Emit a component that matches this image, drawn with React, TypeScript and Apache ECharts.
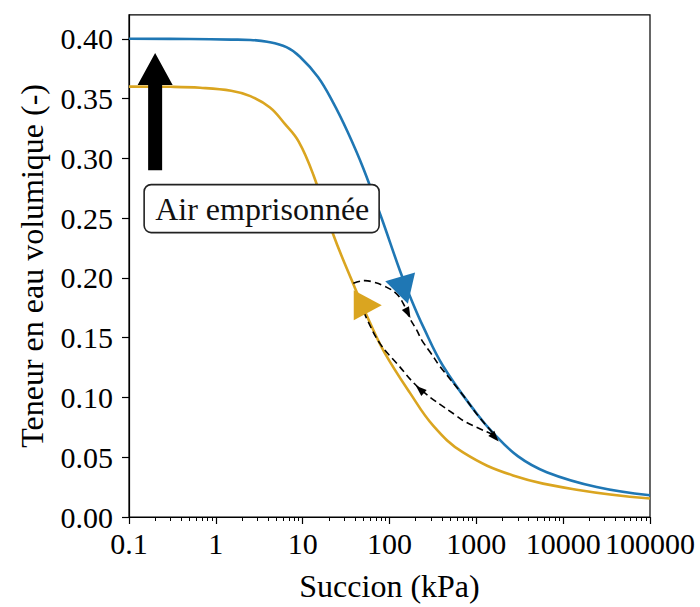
import { useEffect, useRef } from "react";
import * as echarts from "echarts";

const FONT = "Liberation Serif, Times New Roman, serif";

// Main drying curve (blue)
const suctionDrying = [0.1, 0.5, 1.5, 2.5, 3.9, 6.5, 9.3, 15, 22.3, 33, 50, 81, 132, 180, 245, 417, 1009, 1556, 3000, 6470, 24300, 100000];
const thetaDrying = [0.4, 0.3998, 0.3993, 0.399, 0.3975, 0.393, 0.385, 0.368, 0.347, 0.322, 0.2915, 0.2501, 0.206, 0.1811, 0.159, 0.1259, 0.0865, 0.0704, 0.0509, 0.0375, 0.0251, 0.0182];

// Main wetting curve (yellow)
const suctionWetting = [0.1, 0.3, 0.66, 1.5, 2.5, 4.2, 6.2, 9, 13.3, 22.5, 38.3, 60, 88.7, 172, 320, 703, 2645, 15630, 100000];
const thetaWetting = [0.36, 0.3598, 0.359, 0.3565, 0.352, 0.3425, 0.329, 0.314, 0.286, 0.2363, 0.1949, 0.162, 0.1369, 0.1038, 0.0762, 0.054, 0.0348, 0.0224, 0.0155];

// Scanning curve: from the wetting curve over to the drying curve, then down along it
const scanDrySuction = [38.3, 45.7, 52.2, 65, 84.9, 121, 151, 172, 206, 235, 300, 382, 700, 1009, 1556];
const scanDryTheta = [0.1955, 0.1972, 0.1977, 0.1965, 0.1935, 0.1866, 0.1756, 0.1659, 0.1563, 0.148, 0.137, 0.1259, 0.102, 0.0862, 0.0702];

// Scanning curve: back from the drying curve to the wetting curve
const scanWetSuction = [1556, 774, 594, 224, 121, 77.8, 54.6, 47];
const scanWetTheta = [0.069, 0.079, 0.0845, 0.1072, 0.1286, 0.145, 0.166, 0.178];

const xTickValues = [0.1, 1, 10, 100, 1000, 10000, 100000];
const yTickValues = [0, 0.05, 0.1, 0.15, 0.2, 0.25, 0.3, 0.35, 0.4];
const decades = [0.1, 1, 10, 100, 1000, 10000];
const minorMultipliers = [2, 3, 4, 5, 6, 7, 8, 9];

// Direction markers: [suction, theta, rotation]
const dryingMarker = [147, 0.1896, -164];
const wettingMarker = [56.2, 0.1772, -90];
const scanArrows = [
  [163, 0.1706, -153],
  [224, 0.1068, 48],
  [1640, 0.0665, -138],
];

// Trapped-air arrow: suction, from theta, to theta
const trappedAirArrow = [0.2, 0.29, 0.388];
const annotationPos = [0.2, 0.25];
const annotationText = "Air emprisonnée";

const zip = (xs: number[], ys: number[]) => xs.map((x, i) => [x, ys[i]]);

export default function App() {
  const ref = useRef<HTMLDivElement>(null);

  useEffect(() => {
    if (!ref.current) return;
    const chart = echarts.init(ref.current, undefined, { renderer: "svg" });

    const minorTicks = decades.flatMap((d) => minorMultipliers.map((m) => m * d));
    const axisLineStyle = { color: "#000", width: 1.2 };
    const curve = (name: string, data: number[][], color: string, width: number, dashed: boolean, z: number) => ({
      name,
      type: "line",
      data,
      showSymbol: false,
      smooth: 0.4,
      lineStyle: dashed ? { color, width, type: [7, 4] } : { color, width },
      itemStyle: { color },
      z,
    });

    const option: any = {
      animation: false,
      grid: {
        left: 129,
        right: 50,
        top: 14.85,
        bottom: 85,
        show: true,
        borderColor: "#000",
        borderWidth: 1.2,
        backgroundColor: "transparent",
      },
      xAxis: [
        {
          type: "log",
          logBase: 10,
          min: 0.1,
          max: 100000,
          name: "Succion (kPa)",
          nameLocation: "middle",
          nameGap: 53,
          nameTextStyle: { fontFamily: FONT, fontSize: 32, color: "#000" },
          axisLine: { show: true, onZero: false, lineStyle: axisLineStyle },
          axisTick: { show: true, length: 7, inside: false, customValues: xTickValues, lineStyle: axisLineStyle },
          axisLabel: {
            customValues: xTickValues,
            formatter: (v: number) => (v < 1 ? "0.1" : String(Math.round(v))),
            fontFamily: FONT,
            fontSize: 30,
            color: "#000",
            margin: 11,
            hideOverlap: false,
          },
          splitLine: { show: false },
        },
        {
          type: "log",
          logBase: 10,
          min: 0.1,
          max: 100000,
          position: "bottom",
          axisLine: { show: false },
          axisTick: { show: true, length: 4, inside: false, customValues: minorTicks, lineStyle: { color: "#000", width: 1 } },
          axisLabel: { show: false },
          splitLine: { show: false },
        },
      ],
      yAxis: {
        type: "value",
        min: 0,
        max: 0.42,
        name: "Teneur en eau volumique (-)",
        nameLocation: "middle",
        nameGap: 81,
        nameTextStyle: { fontFamily: FONT, fontSize: 32, color: "#000" },
        axisLine: { show: true, onZero: false, lineStyle: axisLineStyle },
        axisTick: { show: true, length: 7, inside: false, customValues: yTickValues, lineStyle: axisLineStyle },
        axisLabel: {
          customValues: yTickValues,
          formatter: (v: number) => v.toFixed(2),
          fontFamily: FONT,
          fontSize: 30,
          color: "#000",
          margin: 16,
        },
        splitLine: { show: false },
      },
      series: [
        curve("Séchage", zip(suctionDrying, thetaDrying), "#1f77b4", 2.6, false, 2),
        curve("Mouillage", zip(suctionWetting, thetaWetting), "#daa520", 2.6, false, 2),
        curve("Balayage séchage", zip(scanDrySuction, scanDryTheta), "#000", 1.6, true, 3),
        curve("Balayage mouillage", zip(scanWetSuction, scanWetTheta), "#000", 1.6, true, 3),
        {
          type: "scatter",
          symbol: "triangle",
          z: 4,
          data: [
            { value: [dryingMarker[0], dryingMarker[1]], symbolRotate: dryingMarker[2], symbolSize: [31, 28], itemStyle: { color: "#1f77b4", opacity: 1 } },
            { value: [wettingMarker[0], wettingMarker[1]], symbolRotate: wettingMarker[2], symbolSize: [30, 28], itemStyle: { color: "#daa520", opacity: 1 } },
            ...scanArrows.map((a) => ({ value: [a[0], a[1]], symbolRotate: a[2], symbolSize: [8, 11], itemStyle: { color: "#000", opacity: 1 } })),
          ],
        },
        {
          type: "custom",
          z: 5,
          encode: { x: 0, y: [1, 2] },
          data: [trappedAirArrow],
          renderItem: (_params: any, api: any) => {
            const base = api.coord([api.value(0), api.value(1)]);
            const tip = api.coord([api.value(0), api.value(2)]);
            const cx = base[0];
            const shaft = 7;
            const head = 17.5;
            const headLen = 32;
            return {
              type: "polygon",
              shape: {
                points: [
                  [cx - shaft, base[1]],
                  [cx - shaft, tip[1] + headLen],
                  [cx - head, tip[1] + headLen],
                  [cx, tip[1]],
                  [cx + head, tip[1] + headLen],
                  [cx + shaft, tip[1] + headLen],
                  [cx + shaft, base[1]],
                ],
              },
              style: { fill: "#000" },
            };
          },
        },
        {
          type: "custom",
          z: 6,
          encode: { x: 0, y: 1 },
          data: [annotationPos],
          renderItem: (_params: any, api: any) => {
            const p = api.coord([api.value(0), api.value(1)]);
            return {
              type: "group",
              children: [
                {
                  type: "rect",
                  shape: { x: p[0] - 11, y: p[1] - 33.5, width: 235, height: 48, r: 7 },
                  style: { fill: "#fff", stroke: "#222", lineWidth: 1.6 },
                },
                {
                  type: "text",
                  style: {
                    x: p[0],
                    y: p[1] - 9.5,
                    text: annotationText,
                    font: "32px Liberation Serif, Times New Roman, serif",
                    fill: "#111",
                    align: "left",
                    verticalAlign: "middle",
                  },
                },
              ],
            };
          },
        },
      ],
    };

    chart.setOption(option);
    return () => chart.dispose();
  }, []);

  return <div ref={ref} style={{ width: 700, height: 607, position: "absolute", left: 0, top: 0, background: "#fff" }} />;
}
